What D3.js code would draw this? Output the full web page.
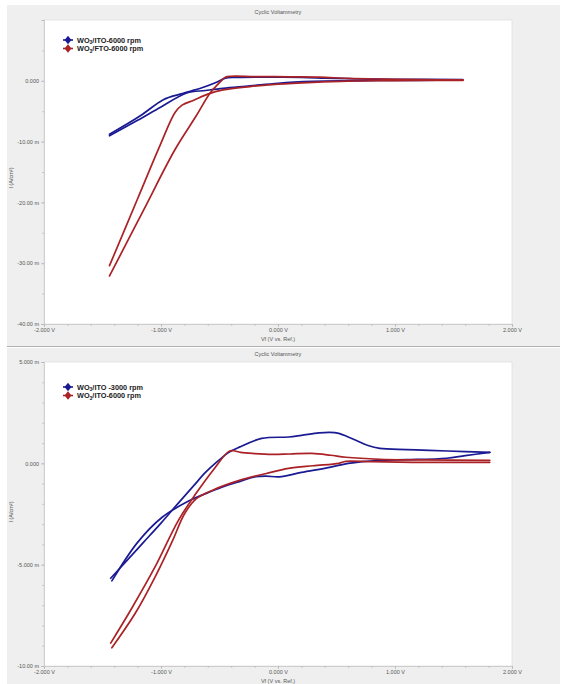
<!DOCTYPE html>
<html>
<head>
<meta charset="utf-8">
<script src="https://cdn.jsdelivr.net/npm/d3@7"></script>
<style>
  html, body { margin: 0; padding: 0; background: #ffffff; }
  svg { display: block; font-family: "Liberation Sans", Arial, sans-serif; }
</style>
</head>
<body>
<svg id="chart" width="565" height="684"></svg>
<script>
// ---------- DATA (potential in V, current in mA/cm²) ----------
const xTickValues = [-2, -1, 0, 1, 2];
const xTickLabels = ["-2.000 V", "-1.000 V", "0.000 V", "1.000 V", "2.000 V"];

const topYTickValues = [0, -10, -20, -30, -40];
const topYTickLabels = ["0.000", "-10.00 m", "-20.00 m", "-30.00 m", "-40.00 m"];
const botYTickValues = [5, 0, -5, -10];
const botYTickLabels = ["5.000 m", "0.000", "-5.000 m", "-10.00 m"];

const chartTitles = ["Cyclic Voltammetry", "Cyclic Voltammetry"];
const xAxisTitles = ["Vf (V vs. Ref.)", "Vf (V vs. Ref.)"];
const yAxisTitle = "I (A/cm²)";

const topLegend = [["WO", "3", "/ITO-6000 rpm"], ["WO", "3", "/FTO-6000 rpm"]];
const botLegend = [["WO", "3", "/ITO -3000 rpm"], ["WO", "3", "/ITO-6000 rpm"]];

// top chart: WO3/ITO-6000 (blue)
const topBlueCathodic = [[1.58,0.1],[1.2,0.08],[0.9,0.05],[0.6,0.0],[0.3,-0.1],[0.0,-0.4],[-0.24,-0.85],[-0.47,-1.25],[-0.62,-1.6],[-0.78,-2.0],[-1.0,-4.3],[-1.2,-6.5],[-1.44,-9.05]];
const topBlueAnodic = [[-1.44,-8.8],[-1.18,-5.8],[-0.98,-3.1],[-0.83,-2.15],[-0.65,-1.15],[-0.52,-0.2],[-0.45,0.45],[-0.35,0.55],[-0.1,0.6],[0.2,0.55],[0.4,0.45],[0.7,0.3],[1.0,0.25],[1.58,0.2]];
// top chart: WO3/FTO-6000 (red)
const topRedCathodic = [[1.58,0.08],[1.2,0.05],[0.9,0.02],[0.6,-0.05],[0.3,-0.25],[0.0,-0.55],[-0.24,-0.95],[-0.47,-1.5],[-0.6,-2.2],[-0.72,-3.2],[-0.82,-4.0],[-0.88,-5.2],[-1.01,-10.7],[-1.2,-19.4],[-1.44,-30.4]];
const topRedAnodic = [[-1.44,-32.1],[-1.15,-21.3],[-0.88,-11.3],[-0.7,-5.8],[-0.58,-2.0],[-0.5,-0.3],[-0.45,0.6],[-0.4,0.75],[-0.2,0.7],[0.1,0.65],[0.35,0.6],[0.6,0.4],[0.9,0.28],[1.2,0.2],[1.58,0.15]];

// bottom chart: WO3/ITO -3000 (blue)
const botBlueCathodic = [[1.81,0.54],[1.6,0.38],[1.44,0.25],[1.1,0.18],[0.87,0.15],[0.6,0.0],[0.44,-0.2],[0.2,-0.45],[0.01,-0.67],[-0.1,-0.63],[-0.19,-0.66],[-0.33,-0.9],[-0.48,-1.18],[-0.62,-1.5],[-0.76,-1.85],[-0.99,-2.66],[-1.2,-3.9],[-1.42,-5.8]];
const botBlueAnodic = [[-1.43,-5.67],[-1.3,-4.85],[-1.15,-3.9],[-1.0,-2.95],[-0.85,-1.95],[-0.72,-1.1],[-0.62,-0.45],[-0.52,0.08],[-0.42,0.54],[-0.33,0.8],[-0.14,1.23],[0.09,1.3],[0.2,1.38],[0.35,1.5],[0.44,1.53],[0.52,1.48],[0.6,1.3],[0.67,1.13],[0.77,0.88],[0.87,0.74],[1.1,0.68],[1.29,0.64],[1.6,0.58],[1.81,0.54]];
// bottom chart: WO3/ITO-6000 (red)
const botRedCathodic = [[1.81,0.05],[1.15,0.05],[0.8,0.08],[0.58,0.1],[0.52,0.0],[0.3,-0.12],[0.09,-0.25],[-0.1,-0.5],[-0.33,-0.84],[-0.55,-1.3],[-0.7,-1.75],[-0.8,-2.5],[-0.9,-3.8],[-1.05,-5.6],[-1.22,-7.4],[-1.42,-9.1]];
const botRedAnodic = [[-1.43,-8.87],[-1.25,-7.15],[-1.05,-5.1],[-0.85,-2.8],[-0.7,-1.48],[-0.55,-0.3],[-0.42,0.59],[-0.38,0.62],[-0.32,0.54],[-0.2,0.48],[-0.05,0.44],[0.1,0.46],[0.29,0.49],[0.45,0.4],[0.58,0.3],[0.87,0.2],[1.2,0.17],[1.81,0.15]];

// ---------- DRAW ----------
const BLUE = "#1a1a93";
const RED = "#aa2226";
const svg = d3.select("#chart");

function drawChart(cfg) {
  const g = svg.append("g");
  g.append("rect").attr("x", 7).attr("y", cfg.panelTop).attr("width", 553).attr("height", cfg.panelH)
    .attr("fill", "#efefef");
  const x = d3.scaleLinear().domain([-2, 2]).range([44, 512]);
  const y = d3.scaleLinear().domain(cfg.yDomain).range([cfg.plotBottom, cfg.plotTop]);
  g.append("rect").attr("x", 44).attr("y", cfg.plotTop).attr("width", 468)
    .attr("height", cfg.plotBottom - cfg.plotTop).attr("fill", "#ffffff").attr("stroke", "#d8d8d8").attr("stroke-width", 0.6);

  g.append("text").attr("x", 278).attr("y", cfg.titleY).attr("text-anchor", "middle")
    .attr("font-size", 5.5).attr("fill", "#555").text(cfg.title);

  const xAxis = d3.axisBottom(x).tickValues(xTickValues)
    .tickFormat((d, i) => xTickLabels[i]).tickSize(3).tickPadding(1);
  const gx = g.append("g").attr("transform", `translate(0,${cfg.plotBottom})`).call(xAxis);
  const xMinor = d3.range(-2, 2.001, 0.2).map(v => +v.toFixed(2));
  const gxm = g.append("g").attr("transform", `translate(0,${cfg.plotBottom})`)
    .call(d3.axisBottom(x).tickValues(xMinor).tickFormat("").tickSize(2));
  const yAxis = d3.axisLeft(y).tickValues(cfg.yTicks)
    .tickFormat((d, i) => cfg.yLabels[i]).tickSize(3).tickPadding(2);
  const gy = g.append("g").attr("transform", `translate(44,0)`).call(yAxis);
  const gym = g.append("g").attr("transform", `translate(44,0)`)
    .call(d3.axisLeft(y).tickValues(cfg.yMinor).tickFormat("").tickSize(2));
  [gx, gxm, gy, gym].forEach(a => {
    a.select(".domain").attr("stroke", "#c8c8c8").attr("stroke-width", 0.6);
    a.selectAll(".tick line").attr("stroke", "#b0b0b0").attr("stroke-width", 0.6);
    a.selectAll(".tick text").attr("font-size", 5.5).attr("fill", "#555")
      .attr("font-family", "Liberation Sans, Arial, sans-serif");
  });

  g.append("text").attr("x", 278).attr("y", cfg.xTitleY).attr("text-anchor", "middle")
    .attr("font-size", 5.5).attr("fill", "#555").text(cfg.xTitle);
  g.append("text").attr("transform", `translate(13,${cfg.yTitleY}) rotate(-90)`).attr("text-anchor", "middle")
    .attr("font-size", 5.5).attr("fill", "#555").text(yAxisTitle);

  const line = d3.line().x(d => x(d[0])).y(d => y(d[1])).curve(d3.curveCatmullRom.alpha(0.5));
  cfg.series.forEach(s => {
    s.parts.forEach(p => {
      g.append("path").datum(p).attr("d", line).attr("fill", "none")
        .attr("stroke", s.color).attr("stroke-width", 1.7).attr("stroke-linejoin", "round").attr("stroke-linecap", "round");
    });
  });

  cfg.legend.forEach((lbl, i) => {
    const ly = cfg.legendY + i * 8.5;
    const col = cfg.series[i].color;
    g.append("line").attr("x1", 63).attr("x2", 73).attr("y1", ly).attr("y2", ly)
      .attr("stroke", col).attr("stroke-width", 1.6);
    g.append("path").attr("d", d3.symbol(d3.symbolDiamond, 26)()).attr("transform", `translate(68,${ly}) scale(1.25,0.9)`)
      .attr("fill", col);
    const t = g.append("text").attr("x", 77).attr("y", ly + 2.6).attr("font-size", 7.3)
      .attr("font-weight", "bold").attr("fill", "#222");
    t.append("tspan").text(lbl[0]);
    t.append("tspan").attr("font-size", 5).attr("dy", 1.5).text(lbl[1]);
    t.append("tspan").attr("dy", -1.5).text(lbl[2]);
  });
}

drawChart({
  panelTop: 5, panelH: 341, plotTop: 20, plotBottom: 324,
  yDomain: [-40, 10], yTicks: topYTickValues, yLabels: topYTickLabels,
  yMinor: d3.range(-40, 10.01, 5),
  title: chartTitles[0], titleY: 14, xTitle: xAxisTitles[0], xTitleY: 341, yTitleY: 178,
  legend: topLegend, legendY: 40,
  series: [
    { color: BLUE, parts: [topBlueCathodic, topBlueAnodic] },
    { color: RED, parts: [topRedCathodic, topRedAnodic] }
  ]
});
drawChart({
  panelTop: 348, panelH: 336, plotTop: 362, plotBottom: 666,
  yDomain: [-10, 5], yTicks: botYTickValues, yLabels: botYTickLabels,
  yMinor: d3.range(-10, 5.01, 1),
  title: chartTitles[1], titleY: 356, xTitle: xAxisTitles[1], xTitleY: 683, yTitleY: 512,
  legend: botLegend, legendY: 387,
  series: [
    { color: BLUE, parts: [botBlueCathodic, botBlueAnodic] },
    { color: RED, parts: [botRedCathodic, botRedAnodic] }
  ]
});
svg.append("line").attr("x1", 7).attr("x2", 560).attr("y1", 346.5).attr("y2", 346.5)
  .attr("stroke", "#9a9a9a").attr("stroke-width", 0.8);
</script>
</body>
</html>
